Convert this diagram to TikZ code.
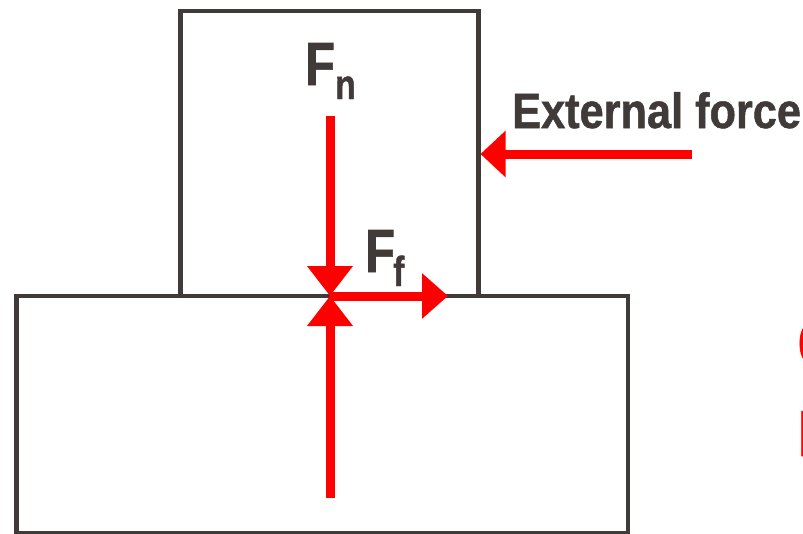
\documentclass[tikz,border=0pt]{standalone}
\usepackage{fontspec}
\setmainfont{Liberation Sans}
\newfontfamily\cond[FakeStretch=0.8,FakeBold=1]{Liberation Sans}
\newfontfamily\condw[FakeStretch=0.875,FakeBold=1]{Liberation Sans}
\usetikzlibrary{arrows.meta}
\definecolor{ink}{HTML}{403B38}
\definecolor{fred}{HTML}{FF0000}
\begin{document}
\begin{tikzpicture}[x=1pt,y=-1pt,
  box/.style={draw=ink,line width=4.4pt},
  force/.style={draw=fred,line width=9pt},
  lbl/.style={inner sep=0pt,anchor=base west,text=ink},
  big/.style={font=\cond\bfseries\fontsize{61}{61}\selectfont},
  small/.style={font=\cond\bfseries\fontsize{42}{42}\selectfont},
  mid/.style={font=\condw\bfseries\fontsize{49.5}{49.5}\selectfont}]
\useasboundingbox (0,0) rectangle (803,533);
% blocks
\draw[box] (16.5,296) rectangle (628,533);
\draw[box] (180.5,11) rectangle (478.5,296);
% coordinates
\coordinate (contact) at (330,296);
\coordinate (fntail) at (330,116);
\coordinate (nttail) at (330,498);
\coordinate (fftip) at (448,296);
\coordinate (exttail) at (692,154);
\coordinate (exttip) at (480.5,154);
% forces
\draw[force,-{Triangle[width=44pt,length=30pt]}] (fntail) -- (contact);
\draw[force,-{Triangle[width=44pt,length=30pt]}] (nttail) -- (contact);
\draw[force,-{Triangle[width=44pt,length=26pt]}] (contact) -- (fftip);
\draw[force,-{Triangle[width=45pt,length=25pt]}] (exttail) -- (exttip);
% labels
\node[lbl,big] (fnF) at (305,85) {F};
\node[lbl,small] (fnn) at (335,99) {n};
\node[lbl,big] (ffF) at (365,272) {F};
\node[lbl,small] (fff) at (393,286) {f};
\node[lbl,mid] (ext) at (512,128) {External force};
% clipped fragments at right edge
\node[lbl,text=fred,font=\cond\bfseries\fontsize{65}{65}\selectfont] (cut1) at (797.5,366) {C};
\node[lbl,text=fred,font=\cond\bfseries\fontsize{65}{65}\selectfont] (cut2) at (798,456) {I};
\end{tikzpicture}
\end{document}
